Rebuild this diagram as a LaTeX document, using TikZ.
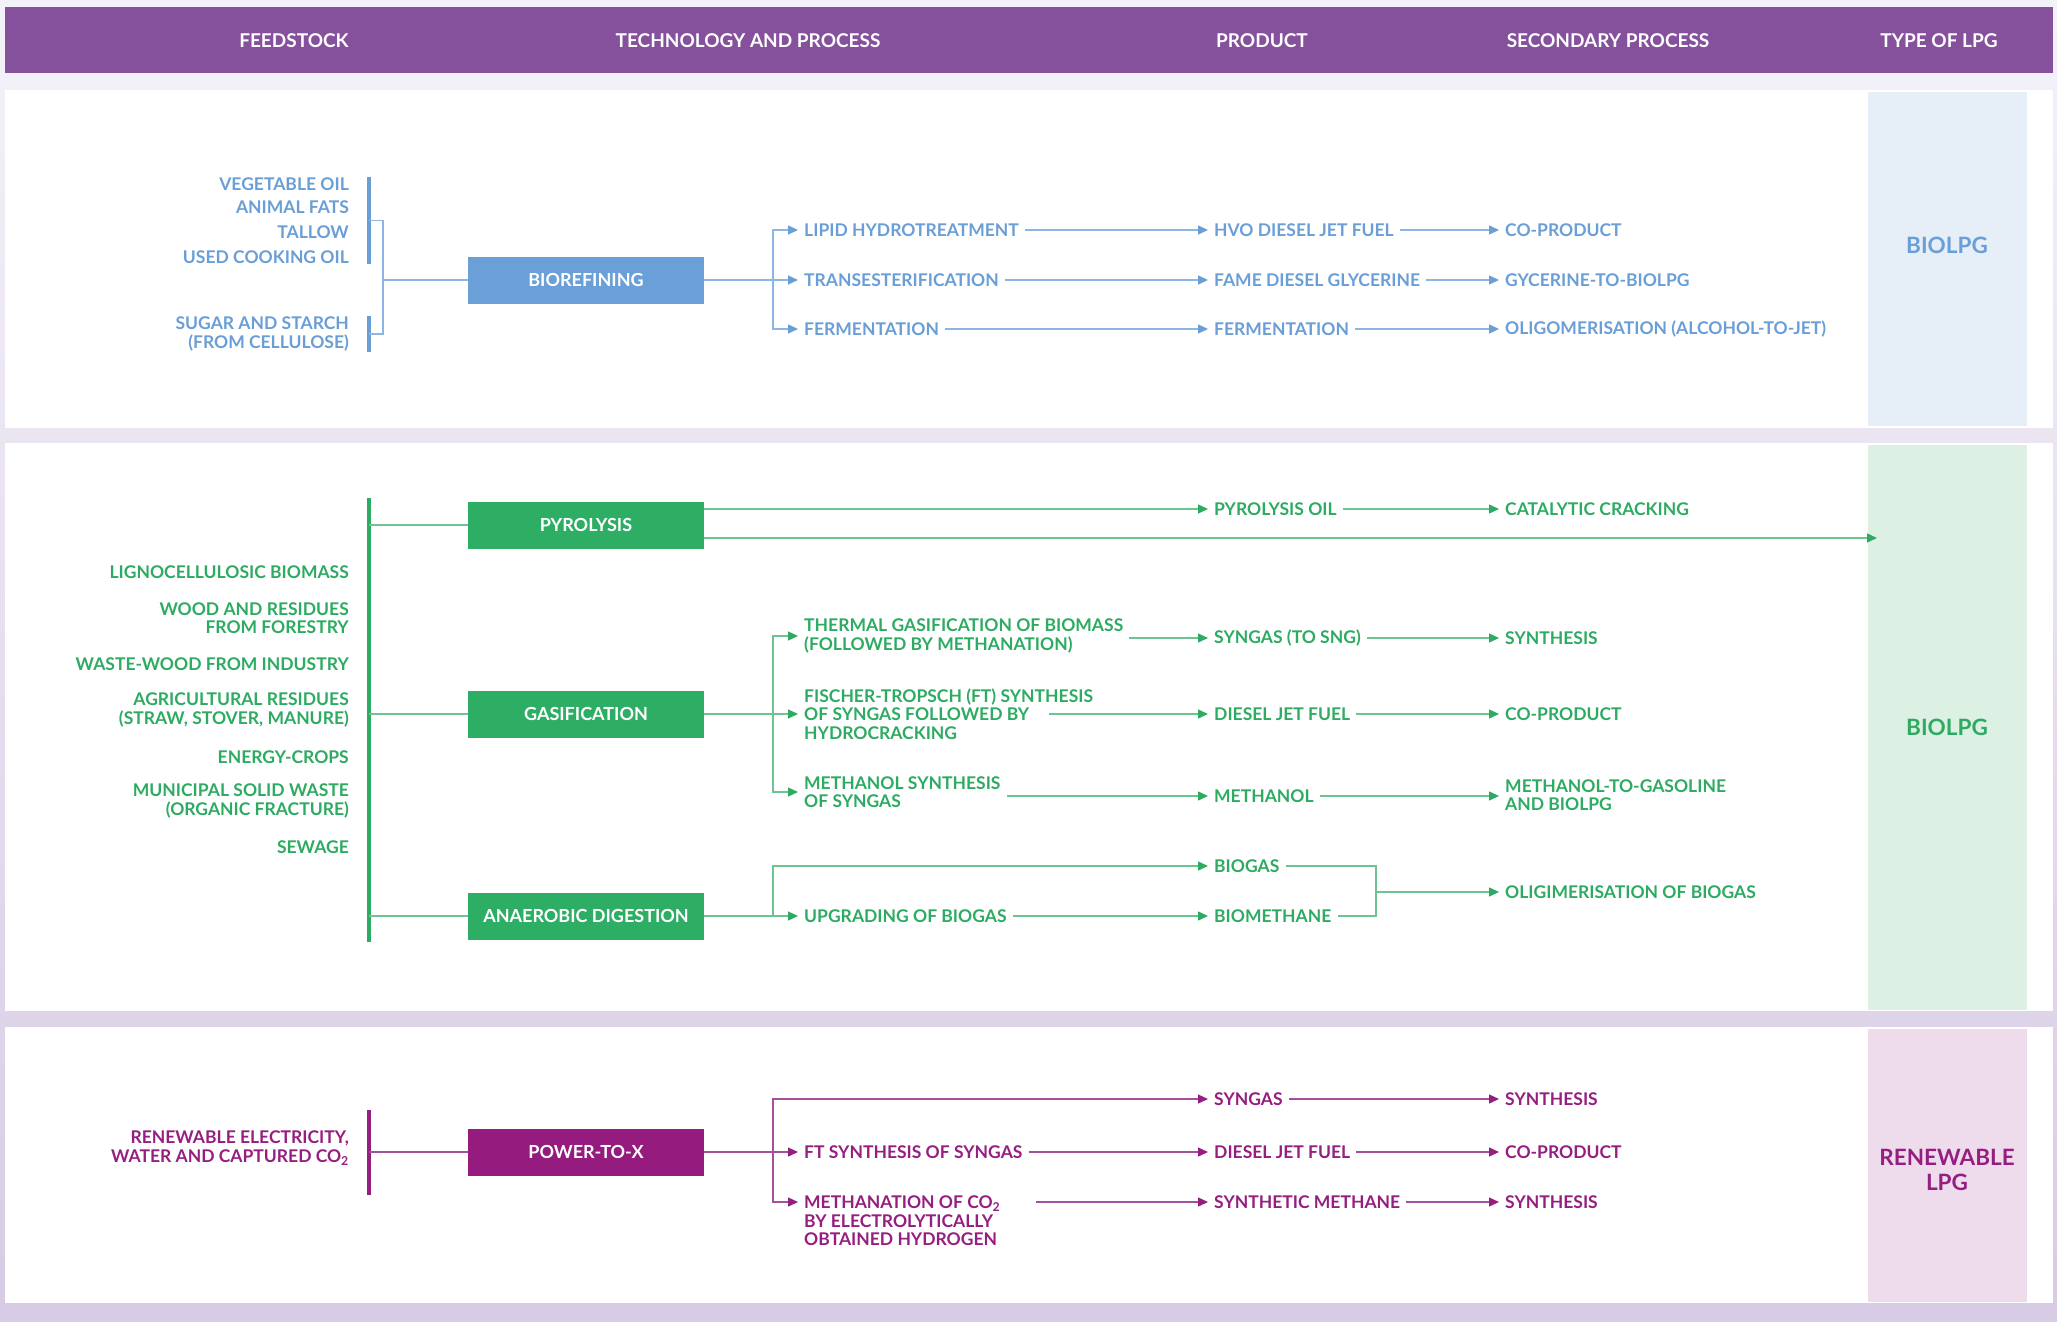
\documentclass[tikz,border=0pt]{standalone}
\usepackage{fontspec}
\setmainfont{Lato}
\usetikzlibrary{arrows.meta,calc}
\definecolor{bgT}{HTML}{F4F2F9}
\definecolor{bgM}{HTML}{EFEBF5}
\definecolor{bgB}{HTML}{D8CBE5}
\definecolor{hdrC}{HTML}{86519C}
\definecolor{blueT}{HTML}{6A9ED6}
\definecolor{blueL}{HTML}{8DB5E3}
\definecolor{blueBox}{HTML}{6A9FD8}
\definecolor{blueBg}{HTML}{E6EEF8}
\definecolor{greenT}{HTML}{2EAB62}
\definecolor{greenL}{HTML}{6EC491}
\definecolor{greenBox}{HTML}{2EAE65}
\definecolor{greenBg}{HTML}{DDF0E4}
\definecolor{purpT}{HTML}{961E80}
\definecolor{purpL}{HTML}{A5509A}
\definecolor{purpBox}{HTML}{951C7E}
\definecolor{purpBg}{HTML}{EEDCEC}
\newcommand{\ftxt}{\fontsize{17.5}{18.6}\selectfont\bfseries}
\newcommand{\fnthdr}{\fontsize{19}{21}\selectfont\bfseries}
\newcommand{\fntbox}{\fontsize{18}{20}\selectfont\bfseries}
\newcommand{\fntlpg}{\fontsize{22.5}{25}\selectfont\bfseries}
\tikzset{
  feed/.style={anchor=east, align=right, inner sep=0pt, font=\ftxt},
  tx/.style={anchor=west, align=left, inner xsep=6pt, inner ysep=0pt, font=\ftxt},
  proc/.style={minimum width=236pt, minimum height=47pt, inner sep=0pt, text=white, font=\fntbox},
  hdr/.style={text=white, font=\fnthdr, inner sep=0pt},
  lpgtxt/.style={font=\fntlpg, align=center, inner sep=0pt},
  lpgbox/.style={minimum width=159pt, inner sep=0pt},
  fbar/.style={line width=4pt},
  connB/.style={line width=1.3pt, draw=blueL},
  connG/.style={line width=1.3pt, draw=greenL},
  connP/.style={line width=1.3pt, draw=purpL},
  arrB/.style={connB, -{Triangle[length=10pt,width=9pt,color=blueT]}},
  arrG/.style={connG, -{Triangle[length=10pt,width=9pt,color=greenT]}},
  arrP/.style={connP, -{Triangle[length=10pt,width=9pt,color=purpT]}},
}
\begin{document}
\begin{tikzpicture}[x=1pt,y=-1pt]
\useasboundingbox (0,0) rectangle (2057,1322);
% backgrounds
\shade[top color=bgT, middle color=bgM, bottom color=bgB] (0,0) rectangle (2057,1322);
\fill[hdrC] (5,7) rectangle (2053,73);
\fill[white] (5,90) rectangle (2053,428);
\fill[white] (5,443) rectangle (2053,1011);
\fill[white] (5,1027) rectangle (2053,1303);
\node[lpgbox, fill=blueBg, minimum height=334pt] (lpg1) at (1947.5,259) {};
\node[lpgbox, fill=greenBg, minimum height=565pt] (lpg2) at (1947.5,727.5) {};
\node[lpgbox, fill=purpBg, minimum height=273pt] (lpg3) at (1947.5,1165.5) {};
\node[lpgtxt, text=blueT] (lpg1t) at (1947,245) {BIOLPG};
\node[lpgtxt, text=greenT] (lpg2t) at (1947,727) {BIOLPG};
\node[lpgtxt, text=purpT] (lpg3t) at (1947,1170) {RENEWABLE\\LPG};
% header
\node[hdr] (h1) at (294,41) {FEEDSTOCK};
\node[hdr] (h2) at (748,41) {TECHNOLOGY AND PROCESS};
\node[hdr] (h3) at (1262,41) {PRODUCT};
\node[hdr] (h4) at (1608,41) {SECONDARY PROCESS};
\node[hdr] (h5) at (1939,41) {TYPE OF LPG};

% ================= PANEL 1 =================
\begin{scope}[text=blueT]
\node[feed] (f-veg) at (349,184) {VEGETABLE OIL};
\node[feed] (f-ani) at (349,207) {ANIMAL FATS};
\node[feed] (f-tal) at (349,232) {TALLOW};
\node[feed] (f-uco) at (349,257) {USED COOKING OIL};
\node[feed] (f-sug) at (349,334) {SUGAR AND STARCH\\(FROM CELLULOSE)};
\node[tx] (t-lipid) at (798,230) {LIPID HYDROTREATMENT};
\node[tx] (t-trans) at (798,280) {TRANSESTERIFICATION};
\node[tx] (t-ferm) at (798,329) {FERMENTATION};
\node[tx] (p-hvo) at (1208,230) {HVO DIESEL JET FUEL};
\node[tx] (p-fame) at (1208,280) {FAME DIESEL GLYCERINE};
\node[tx] (p-ferm) at (1208,329) {FERMENTATION};
\node[tx] (s-cop1) at (1499,230) {CO-PRODUCT};
\node[tx] (s-gly) at (1499,280) {GYCERINE-TO-BIOLPG};
\node[tx] (s-olig1) at (1499,329) {OLIGOMERISATION (ALCOHOL-TO-JET)};
\end{scope}
\node[proc, fill=blueBox] (bioref) at (586,280) {BIOREFINING};
\coordinate (b1t) at (369,177); \coordinate (b1b) at (369,264);
\coordinate (b2t) at (369,316); \coordinate (b2b) at (369,352);
\coordinate (b1m) at (369,220.5); \coordinate (b2m) at (369,334);
\coordinate (br) at (383,280);
\coordinate (fork1) at (773,280);
\draw[fbar, blueT] (b1t) -- (b1b);
\draw[fbar, blueT] (b2t) -- (b2b);
\draw[connB] (b1m) -- (b1m -| br) -- (b2m -| br) -- (b2m);
\draw[connB] (br) -- (bioref.west);
\draw[connB] (bioref.east) -- (fork1);
\draw[arrB] (fork1) |- (t-lipid.west);
\draw[arrB] (fork1) -- (t-trans.west);
\draw[arrB] (fork1) |- (t-ferm.west);
\draw[arrB] (t-lipid.east) -- (p-hvo.west);
\draw[arrB] (t-trans.east) -- (p-fame.west);
\draw[arrB] (t-ferm.east) -- (p-ferm.west);
\draw[arrB] (p-hvo.east) -- (s-cop1.west);
\draw[arrB] (p-fame.east) -- (s-gly.west);
\draw[arrB] (p-ferm.east) -- (s-olig1.west);

% ================= PANEL 2 =================
\begin{scope}[text=greenT]
\node[feed] (f-lig) at (349,572) {LIGNOCELLULOSIC BIOMASS};
\node[feed] (f-wood) at (349,618) {WOOD AND RESIDUES\\FROM FORESTRY};
\node[feed] (f-waste) at (349,664) {WASTE-WOOD FROM INDUSTRY};
\node[feed] (f-agr) at (349,710) {AGRICULTURAL RESIDUES\\(STRAW, STOVER, MANURE)};
\node[feed] (f-en) at (349,757) {ENERGY-CROPS};
\node[feed] (f-msw) at (349,801) {MUNICIPAL SOLID WASTE\\(ORGANIC FRACTURE)};
\node[feed] (f-sew) at (349,847) {SEWAGE};
\node[tx] (p-poil) at (1208,509) {PYROLYSIS OIL};
\node[tx] (s-cat) at (1499,509) {CATALYTIC CRACKING};
\node[tx] (t-therm) at (798,636) {THERMAL GASIFICATION OF BIOMASS\\(FOLLOWED BY METHANATION)};
\node[tx] (t-ft) at (798,714) {FISCHER-TROPSCH (FT) SYNTHESIS\\OF SYNGAS FOLLOWED BY\\HYDROCRACKING};
\node[tx] (t-meth) at (798,792) {METHANOL SYNTHESIS\\OF SYNGAS};
\node[tx] (p-syng) at (1208,638) {SYNGAS (TO SNG)};
\node[tx] (p-dj) at (1208,714) {DIESEL JET FUEL};
\node[tx] (p-meoh) at (1208,796) {METHANOL};
\node[tx] (s-synth1) at (1499,638) {SYNTHESIS};
\node[tx] (s-cop2) at (1499,714) {CO-PRODUCT};
\node[tx] (s-mtg) at (1499,795) {METHANOL-TO-GASOLINE\\AND BIOLPG};
\node[tx] (t-upg) at (798,916) {UPGRADING OF BIOGAS};
\node[tx] (p-biogas) at (1208,866) {BIOGAS};
\node[tx] (p-biometh) at (1208,916) {BIOMETHANE};
\node[tx] (s-oligb) at (1499,892) {OLIGIMERISATION OF BIOGAS};
\end{scope}
\node[proc, fill=greenBox] (pyro) at (586,525) {PYROLYSIS};
\node[proc, fill=greenBox] (gasi) at (586,714) {GASIFICATION};
\node[proc, fill=greenBox] (ad) at (586,916) {ANAEROBIC DIGESTION};
\coordinate (b3t) at (369,498); \coordinate (b3b) at (369,942);
\draw[fbar, greenT] (b3t) -- (b3b);
\draw[connG] (pyro.west -| b3t) -- (pyro.west);
\draw[connG] (gasi.west -| b3t) -- (gasi.west);
\draw[connG] (ad.west -| b3t) -- (ad.west);
% pyrolysis
\coordinate (lpg-in) at (1877,538);
\draw[arrG] (pyro.east |- p-poil.west) -- (p-poil.west);
\draw[arrG] (p-poil.east) -- (s-cat.west);
\draw[arrG] (pyro.east |- lpg-in) -- (lpg-in);
% gasification
\coordinate (fork2) at (773,714);
\coordinate (ft-out) at (1049,714);
\draw[connG] (gasi.east) -- (fork2);
\draw[arrG] (fork2) |- (t-therm.west);
\draw[arrG] (fork2) -- (t-ft.west);
\draw[arrG] (fork2) |- (t-meth.west);
\draw[arrG] (t-therm.east |- p-syng.west) -- (p-syng.west);
\draw[arrG] (ft-out) -- (p-dj.west);
\draw[arrG] (t-meth.east |- p-meoh.west) -- (p-meoh.west);
\draw[arrG] (p-syng.east) -- (s-synth1.west);
\draw[arrG] (p-dj.east) -- (s-cop2.west);
\draw[arrG] (p-meoh.east) -- (s-mtg.west |- p-meoh.west);
% anaerobic digestion
\coordinate (fork3) at (773,916);
\coordinate (mrg) at (1376,892);
\draw[connG] (ad.east) -- (fork3);
\draw[arrG] (fork3) |- (p-biogas.west);
\draw[arrG] (fork3) -- (t-upg.west);
\draw[arrG] (t-upg.east) -- (p-biometh.west);
\draw[connG] (p-biogas.east) -- (p-biogas.east -| mrg) -- (p-biometh.east -| mrg) -- (p-biometh.east);
\draw[arrG] (mrg) -- (s-oligb.west);

% ================= PANEL 3 =================
\begin{scope}[text=purpT]
\node[feed] (f-ren) at (349,1148) {RENEWABLE ELECTRICITY,\\WATER AND CAPTURED CO\textsubscript{2}};
\node[tx] (p-syn3) at (1208,1099) {SYNGAS};
\node[tx] (s-synth2) at (1499,1099) {SYNTHESIS};
\node[tx] (t-ftsyn) at (798,1152) {FT SYNTHESIS OF SYNGAS};
\node[tx] (p-dj3) at (1208,1152) {DIESEL JET FUEL};
\node[tx] (s-cop3) at (1499,1152) {CO-PRODUCT};
\node[tx] (t-methco) at (798,1221) {METHANATION OF CO\textsubscript{2}\\BY ELECTROLYTICALLY\\OBTAINED HYDROGEN};
\node[tx] (p-sm) at (1208,1202) {SYNTHETIC METHANE};
\node[tx] (s-synth3) at (1499,1202) {SYNTHESIS};
\end{scope}
\node[proc, fill=purpBox] (ptx) at (586,1152) {POWER-TO-X};
\coordinate (b4t) at (369,1110); \coordinate (b4b) at (369,1195);
\draw[fbar, purpT] (b4t) -- (b4b);
\draw[connP] (ptx.west -| b4t) -- (ptx.west);
\coordinate (fork4) at (773,1152);
\coordinate (mc-out) at (1036,1202);
\draw[connP] (ptx.east) -- (fork4);
\draw[arrP] (fork4) |- (p-syn3.west);
\draw[arrP] (fork4) -- (t-ftsyn.west);
\draw[arrP] (fork4) |- (t-methco.west |- p-sm.west);
\draw[arrP] (t-ftsyn.east) -- (p-dj3.west);
\draw[arrP] (mc-out) -- (p-sm.west);
\draw[arrP] (p-syn3.east) -- (s-synth2.west);
\draw[arrP] (p-dj3.east) -- (s-cop3.west);
\draw[arrP] (p-sm.east) -- (s-synth3.west);
\end{tikzpicture}
\end{document}
